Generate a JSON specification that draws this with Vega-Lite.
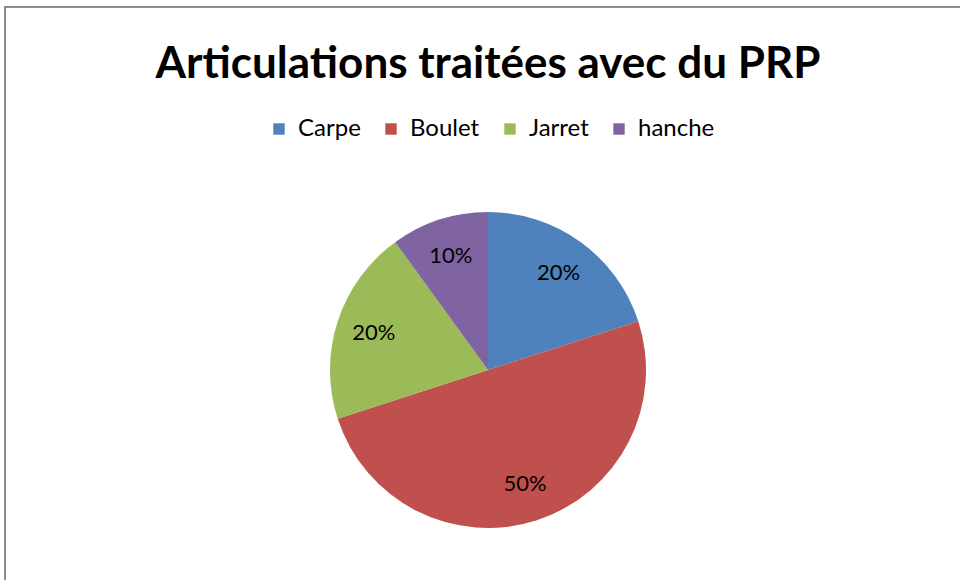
{
  "$schema": "https://vega.github.io/schema/vega-lite/v6.json",
  "autosize": "none",
  "padding": {"left": 5, "top": 7, "right": 0, "bottom": 0},
  "width": 966,
  "height": 726,
  "background": "white",
  "view": {"stroke": "#8c8c8c", "strokeWidth": 2},
  "title": {
    "text": "Articulations traitées avec du PRP",
    "orient": "top",
    "anchor": "middle",
    "offset": -80,
    "font": "Lato",
    "fontSize": 44,
    "fontWeight": "bold",
    "color": "#000000"
  },
  "config": {
    "view": {"stroke": "#8c8c8c", "strokeWidth": 2},
    "font": "Lato"
  },
  "data": {
    "values": [
      {"articulation": "Carpe", "share": 0.2, "ord": 1},
      {"articulation": "Boulet", "share": 0.5, "ord": 2},
      {"articulation": "Jarret", "share": 0.2, "ord": 3},
      {"articulation": "hanche", "share": 0.1, "ord": 4}
    ]
  },
  "encoding": {
    "theta": {"field": "share", "type": "quantitative", "stack": true},
    "order": {"field": "ord", "type": "quantitative"},
    "color": {
      "field": "articulation",
      "type": "nominal",
      "scale": {
        "domain": ["Carpe", "Boulet", "Jarret", "hanche"],
        "range": ["#4F81BD", "#C0504D", "#9BBB59", "#8064A2"]
      },
      "legend": {
        "title": null,
        "orient": "none",
        "direction": "horizontal",
        "legendX": 262,
        "legendY": 110,
        "symbolType": "square",
        "symbolSize": 130,
        "symbolStrokeWidth": 0,
        "labelFontSize": 24,
        "labelFont": "Lato",
        "labelColor": "#000000",
        "columnPadding": 18,
        "labelOffset": 7
      }
    }
  },
  "layer": [
    {"mark": {"type": "arc", "outerRadius": 158}},
    {
      "mark": {"type": "text", "radius": 120, "fontSize": 22, "font": "Lato", "color": "#000000"},
      "encoding": {
        "text": {"field": "share", "type": "quantitative", "format": ".0%"},
        "color": {"value": "#000000"}
      }
    }
  ]
}
